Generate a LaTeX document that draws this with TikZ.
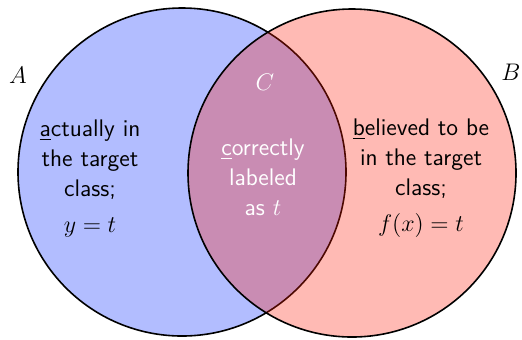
\documentclass[tikz,border=0pt]{standalone}
\usepackage{amsmath}
\usetikzlibrary{positioning}
\definecolor{setBlue}{RGB}{0,38,255}
\definecolor{setRed}{RGB}{255,28,5}
\tikzset{
  setarea/.style={draw=black, thick, fill opacity=0.3},
  setlabel/.style={font=\large, inner sep=0pt},
  settext/.style={font=\sffamily\fontsize{12}{15}\selectfont, align=center, inner sep=0pt}
}
\begin{document}
\begin{tikzpicture}[x=0.5pt, y=-0.5pt]
  \useasboundingbox (0,0) rectangle (522,339);
  \coordinate (cA) at (182,172);
  \coordinate (cB) at (352,173);
  % the two sets
  \draw[setarea, fill=setBlue] (cA) circle[radius=82pt];
  \draw[setarea, fill=setRed] (cB) circle[radius=82pt];
  % set names
  \node[setlabel] (nameA) at (18,75) {$A$};
  \node[setlabel] (nameB) at (511,72) {$B$};
  \node[setlabel, text=white] (nameC) at (265,82) {$C$};
  % descriptions
  \node[settext] (textA) at (90,178)
    {\underline{a}ctually in\\the target\\class;\\[3pt]$y=t$};
  \node[settext] (textB) at (421,178)
    {\underline{b}elieved to be\\in the target\\class;\\[3pt]$f(x)=t$};
  \node[settext, text=white] (textC) at (263,177)
    {\underline{c}orrectly\\labeled\\as $t$};
\end{tikzpicture}
\end{document}
